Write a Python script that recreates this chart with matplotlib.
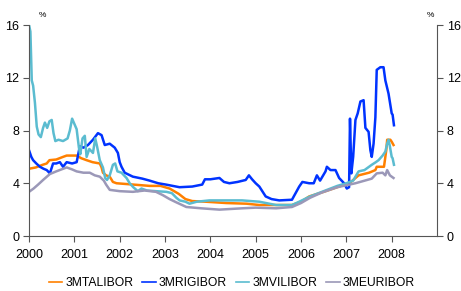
import numpy as np
import matplotlib.pyplot as plt

plt.rcParams['font.family'] = ['Liberation Sans', 'DejaVu Sans']

# 3M interbank rates, %
ta_x = [2000.00, 2000.15, 2000.30, 2000.39, 2000.45, 2000.60, 2000.75, 2000.83, 2001.05, 2001.15,
        2001.27, 2001.40, 2001.56, 2001.60, 2001.63, 2001.70, 2001.78, 2001.85, 2001.93, 2002.30,
        2002.66, 2002.90, 2003.10, 2003.30, 2003.45, 2003.60, 2003.90, 2004.35, 2004.80, 2005.08,
        2005.80, 2006.00, 2006.18, 2006.50, 2006.84, 2007.10, 2007.27, 2007.50, 2007.64, 2007.67,
        2007.83, 2007.88, 2007.90, 2007.97, 2008.00, 2008.04]
ta_y = [5.1, 5.2, 5.4, 5.5, 5.75, 5.8, 6.0, 6.1, 6.1, 5.9,
        5.75, 5.6, 5.5, 5.2, 4.8, 4.6, 4.5, 4.1, 4.0, 3.9,
        3.8, 3.8, 3.6, 3.2, 2.8, 2.65, 2.6, 2.5, 2.45, 2.35,
        2.35, 2.6, 3.0, 3.35, 3.75, 4.1, 4.6, 4.8, 5.0, 5.25,
        5.25, 6.5, 7.3, 7.3, 7.15, 6.9]

ri_x = [2000.00, 2000.05, 2000.09, 2000.16, 2000.24, 2000.32, 2000.39, 2000.46, 2000.53, 2000.60,
        2000.68, 2000.75, 2000.83, 2000.95, 2001.05, 2001.12, 2001.20, 2001.30, 2001.41, 2001.52,
        2001.60, 2001.67, 2001.78, 2001.89, 2001.96, 2002.00, 2002.04, 2002.11, 2002.29, 2002.50,
        2002.66, 2002.85, 2003.02, 2003.32, 2003.60, 2003.82, 2003.88, 2004.00, 2004.20, 2004.30,
        2004.42, 2004.60, 2004.78, 2004.85, 2004.92, 2005.00, 2005.08, 2005.22, 2005.35, 2005.52,
        2005.80, 2005.96, 2006.03, 2006.18, 2006.28, 2006.35, 2006.42, 2006.54, 2006.57, 2006.65,
        2006.76, 2006.84, 2006.95, 2007.01, 2007.06, 2007.08, 2007.11, 2007.15, 2007.20, 2007.25,
        2007.31, 2007.38, 2007.42, 2007.49, 2007.53, 2007.56, 2007.60, 2007.64, 2007.67, 2007.75,
        2007.82, 2007.86, 2007.93, 2008.00, 2008.02, 2008.05]
ri_y = [6.5, 6.0, 5.75, 5.5, 5.25, 5.1, 5.0, 4.75, 5.5, 5.5,
        5.6, 5.25, 5.6, 5.5, 5.6, 6.8, 6.7, 6.9, 7.3, 7.8,
        7.65, 6.9, 7.0, 6.7, 6.3, 5.6, 5.25, 4.8, 4.5, 4.35,
        4.2, 4.0, 3.9, 3.7, 3.75, 3.9, 4.3, 4.3, 4.4, 4.1,
        4.0, 4.1, 4.25, 4.6, 4.3, 4.0, 3.75, 3.0, 2.8, 2.7,
        2.75, 3.75, 4.1, 4.0, 4.0, 4.6, 4.2, 4.9, 5.25, 5.0,
        5.0, 4.4, 4.0, 3.6, 3.7, 8.9, 4.75, 6.0, 8.8, 9.3,
        10.2, 10.3, 8.2, 7.9, 6.5, 6.0, 7.0, 9.0, 12.6, 12.8,
        12.8, 11.8, 10.8, 9.3, 9.2, 8.4]

vi_x = [2000.00, 2000.03, 2000.06, 2000.09, 2000.13, 2000.17, 2000.21, 2000.26, 2000.31, 2000.35,
        2000.40, 2000.45, 2000.50, 2000.54, 2000.58, 2000.65, 2000.75, 2000.85, 2000.90, 2000.95,
        2001.00, 2001.05, 2001.10, 2001.13, 2001.18, 2001.23, 2001.27, 2001.33, 2001.41, 2001.46,
        2001.50, 2001.56, 2001.63, 2001.68, 2001.72, 2001.78, 2001.85, 2001.90, 2001.95, 2002.04,
        2002.15, 2002.22, 2002.30, 2002.40, 2002.48, 2002.60, 2002.80, 2003.03, 2003.15, 2003.25,
        2003.32, 2003.45, 2003.54, 2003.70, 2003.98, 2004.30, 2004.70, 2005.08, 2005.30, 2005.45,
        2005.80, 2005.96, 2006.20, 2006.50, 2006.80, 2007.00, 2007.15, 2007.20, 2007.27, 2007.40,
        2007.56, 2007.65, 2007.71, 2007.80, 2007.86, 2007.90, 2007.93, 2007.96, 2008.00, 2008.02,
        2008.05]
vi_y = [16.0, 15.5, 11.8, 11.4, 10.1, 8.3, 7.7, 7.5, 8.2, 8.6,
        8.2, 8.7, 8.8, 7.8, 7.2, 7.3, 7.2, 7.4, 8.0, 8.9,
        8.5, 8.1, 6.7, 6.2, 7.4, 7.6, 6.0, 6.6, 6.3, 7.4,
        6.8, 5.75, 5.2, 4.4, 4.25, 4.6, 5.4, 5.5, 4.9, 4.8,
        4.4, 4.0, 3.7, 3.4, 3.6, 3.45, 3.4, 3.35, 3.25, 2.9,
        2.7, 2.6, 2.45, 2.6, 2.7, 2.7, 2.7, 2.6, 2.45, 2.35,
        2.35, 2.6, 3.0, 3.4, 3.8, 4.0, 4.2, 4.5, 4.9, 5.0,
        5.4, 5.6, 5.75, 6.1, 6.4, 7.0, 7.3, 6.8, 6.0, 5.9,
        5.4]

eu_x = [2000.00, 2000.10, 2000.20, 2000.31, 2000.46, 2000.60, 2000.83, 2000.95, 2001.05, 2001.20,
        2001.34, 2001.45, 2001.56, 2001.65, 2001.70, 2001.78, 2002.00, 2002.29, 2002.55, 2002.80,
        2002.95, 2003.10, 2003.25, 2003.47, 2003.80, 2004.20, 2004.70, 2005.00, 2005.45, 2005.80,
        2006.00, 2006.20, 2006.46, 2006.80, 2007.20, 2007.56, 2007.67, 2007.80, 2007.86, 2007.90,
        2007.96, 2008.04]
eu_y = [3.35, 3.6, 3.9, 4.25, 4.7, 4.9, 5.2, 5.05, 4.9, 4.8,
        4.8, 4.6, 4.5, 4.2, 3.9, 3.5, 3.4, 3.35, 3.45, 3.35,
        3.1, 2.8, 2.55, 2.2, 2.1, 2.0, 2.1, 2.15, 2.1, 2.2,
        2.5, 2.9, 3.3, 3.7, 4.0, 4.35, 4.75, 4.8, 4.6, 5.0,
        4.6, 4.4]

years = list(range(2000, 2009))
yticks = [0, 4, 8, 12, 16]

fig = plt.figure(figsize=(4.61, 2.91), dpi=100)
ax = fig.add_axes([0.063, 0.189, 0.885, 0.725])

ax.plot(ta_x, ta_y, color='#ff8000', lw=1.8, label='3MTALIBOR')
ax.plot(ri_x, ri_y, color='#0033ff', lw=1.8, label='3MRIGIBOR')
ax.plot(vi_x, vi_y, color='#5bbcd0', lw=1.8, label='3MVILIBOR')
ax.plot(eu_x, eu_y, color='#9b98b8', lw=1.8, label='3MEURIBOR')

ax.set_xlim(2000, 2009)
ax.set_ylim(0, 16)
ax.set_xticks(years)
ax.set_xticklabels([str(y) for y in years])
ax.set_yticks(yticks)

spine_c = '#555555'
for s in ['left', 'right', 'bottom']:
    ax.spines[s].set_color(spine_c)
ax.spines['top'].set_visible(False)
ax.tick_params(axis='both', labelsize=9, color=spine_c, length=4, direction='out')
ax.tick_params(axis='y', right=True, labelright=True, pad=3)
ax.tick_params(axis='x', pad=5)

fig.text(0.085, 0.94, '%', fontsize=6)
fig.text(0.925, 0.94, '%', fontsize=6)

leg = fig.legend(loc='center', bbox_to_anchor=(0.503, 0.027), ncol=4, frameon=False,
                 fontsize=8.7, handlelength=1.1, handletextpad=0.25, columnspacing=0.75)
for line in leg.get_lines():
    line.set_linewidth(1.2)

fig.savefig('out.png', dpi=100)
